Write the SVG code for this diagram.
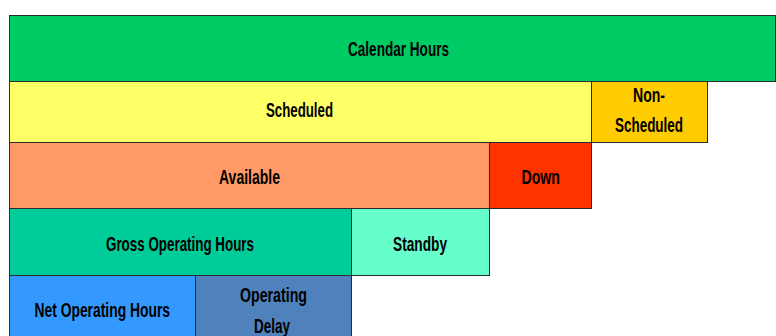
<svg xmlns="http://www.w3.org/2000/svg" width="776" height="336" viewBox="0 0 776 336">
  <style>
    .box { stroke: #2b2b2b; stroke-width: 1; }
    .lbl { font-family: "Liberation Sans Narrow", "Liberation Sans", Arial, sans-serif; font-weight: bold; font-size: 21px; fill: #000; }
  </style>
  <rect width="776" height="336" fill="#ffffff"/>

  <g id="calendar-hours">
    <rect class="box" x="9.5" y="15.5" width="766" height="66" fill="#00CC66"/>
    <text class="lbl" x="348" y="56" textLength="101" lengthAdjust="spacingAndGlyphs">Calendar Hours</text>
  </g>

  <g id="scheduled">
    <rect class="box" x="9.5" y="81.5" width="582" height="61" fill="#FFFF66"/>
    <text class="lbl" x="266" y="117" textLength="67" lengthAdjust="spacingAndGlyphs">Scheduled</text>
  </g>

  <g id="non-scheduled">
    <rect class="box" x="591.5" y="81.5" width="116" height="61" fill="#FFCC00"/>
    <text class="lbl" x="633" y="101.5" textLength="32" lengthAdjust="spacingAndGlyphs">Non-</text>
    <text class="lbl" x="615" y="132" textLength="68" lengthAdjust="spacingAndGlyphs">Scheduled</text>
  </g>

  <g id="available">
    <rect class="box" x="9.5" y="142.5" width="480" height="66" fill="#FF9966"/>
    <text class="lbl" x="219" y="184" textLength="61" lengthAdjust="spacingAndGlyphs">Available</text>
  </g>

  <g id="down">
    <rect class="box" x="489.5" y="142.5" width="102" height="66" fill="#FF3300"/>
    <text class="lbl" x="521.5" y="184" textLength="38.5" lengthAdjust="spacingAndGlyphs">Down</text>
  </g>

  <g id="gross-operating-hours">
    <rect class="box" x="9.5" y="208.5" width="342" height="67" fill="#00CC99"/>
    <text class="lbl" x="106" y="250.5" textLength="148" lengthAdjust="spacingAndGlyphs">Gross Operating Hours</text>
  </g>

  <g id="standby">
    <rect class="box" x="351.5" y="208.5" width="138" height="67" fill="#66FFCC"/>
    <text class="lbl" x="393" y="250.5" textLength="54" lengthAdjust="spacingAndGlyphs">Standby</text>
  </g>

  <g id="net-operating-hours">
    <rect class="box" x="9.5" y="275.5" width="186" height="70" fill="#3399FF"/>
    <text class="lbl" x="34.5" y="317" textLength="135.5" lengthAdjust="spacingAndGlyphs">Net Operating Hours</text>
  </g>

  <g id="operating-delay">
    <rect class="box" x="195.5" y="275.5" width="156" height="70" fill="#4F81BD"/>
    <text class="lbl" x="240" y="301.5" textLength="67" lengthAdjust="spacingAndGlyphs">Operating</text>
    <text class="lbl" x="254" y="333" textLength="36" lengthAdjust="spacingAndGlyphs">Delay</text>
  </g>

  <g id="connectors"/>
</svg>
